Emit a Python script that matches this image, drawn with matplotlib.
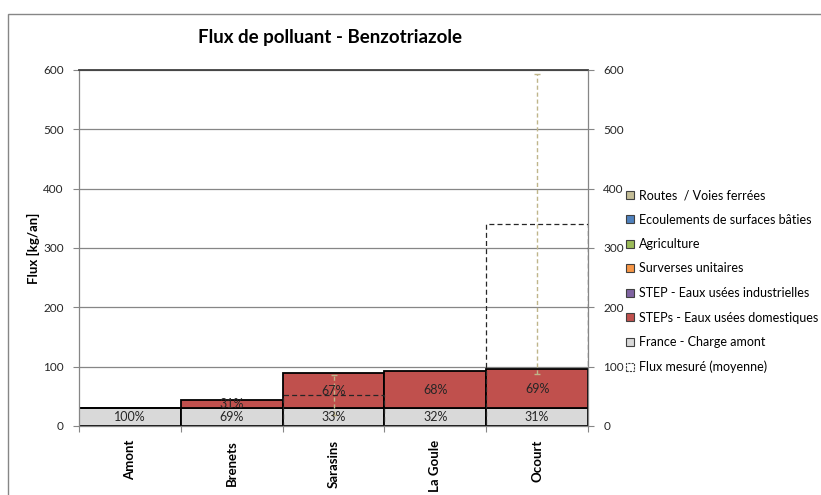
import numpy as np
import matplotlib
matplotlib.use("Agg")
import matplotlib.pyplot as plt
from matplotlib.patches import Patch, Rectangle

plt.rcParams['font.family'] = ['Lato', 'DejaVu Sans']

# data
categories = ['Amont', 'Brenets', 'Sarasins', 'La Goule', 'Ocourt']
france = [29.5, 29.5, 29.5, 29.5, 29.5]           # France - Charge amont
step_dom = [0.0, 13.5, 60.5, 62.5, 66.5]           # STEPs - Eaux usees domestiques
measured = [np.nan, np.nan, 52.0, 0.0, 340.0]      # Flux mesure (moyenne)
measured_err = [np.nan, np.nan, 34.0, np.nan, 253.0]

legend_labels = ['Routes  / Voies ferrées', 'Ecoulements de surfaces bâties',
                 'Agriculture', 'Surverses unitaires',
                 'STEP - Eaux usées industrielles', 'STEPs - Eaux usées domestiques',
                 'France - Charge amont', 'Flux mesuré (moyenne)']
legend_colors = ['#c4bd97', '#4f81bd', '#9bbb59', '#f79646', '#8064a2',
                 '#c0504d', '#d9d9d9', 'none']

W, H = 821, 495
fig = plt.figure(figsize=(W / 100, H / 100), dpi=100)
ax = fig.add_axes([79 / W, 1 - 426 / H, (588 - 79) / W, (426 - 70) / H])

# outer chart frame
fig.patches.append(Rectangle((8 / W, -0.05), 1.2, 1 - 14 / H + 0.05,
                             transform=fig.transFigure, fill=False,
                             edgecolor='#868686', linewidth=1.0))

x = np.arange(len(categories))
france = np.array(france)
step_dom = np.array(step_dom)
total = france + step_dom

ax.bar(x, france, width=1.0, color='#d9d9d9', edgecolor='black', linewidth=1.3, zorder=2)
ax.bar(x, step_dom, width=1.0, bottom=france, color='#c0504d', edgecolor='black',
       linewidth=1.3, zorder=2)

# measured flux: unfilled dashed bars + error bars
ax.bar(x, measured, width=1.0, fill=False, edgecolor='#262626', linewidth=0.9,
       linestyle=(0, (4, 2.5)), zorder=3)
eb = ax.errorbar(x, measured, yerr=measured_err, fmt='none', ecolor='#bfb58a',
                 elinewidth=1.0, capsize=2, capthick=1.0, zorder=3)
eb.lines[2][0].set_linestyle((0, (3, 2)))

# percentage labels
for i in range(len(categories)):
    ax.text(x[i], france[i] / 2, f"{round(100 * france[i] / total[i]):.0f}%",
            ha='center', va='center', fontsize=9, color='#262626', zorder=4)
    if step_dom[i] > 0:
        ax.text(x[i], france[i] + step_dom[i] / 2,
                f"{round(100 * step_dom[i] / total[i]):.0f}%",
                ha='center', va='center', fontsize=9, color='#262626', zorder=4)

ax.set_xlim(-0.5, len(categories) - 0.5)
ax.set_ylim(0, 600)
ax.set_yticks(np.arange(0, 601, 100))
ax.yaxis.grid(True, color='#868686', linewidth=0.9, zorder=0)
ax.set_axisbelow(True)

ax.set_xticks(np.arange(-0.5, len(categories), 1.0), minor=False)
ax.set_xticklabels([])
ax.set_xticks(x, minor=True)
ax.set_xticklabels(categories, minor=True, rotation=90, fontsize=9.5,
                   fontweight='bold', va='top', ha='center')
ax.tick_params(axis='x', which='major', length=4, color='#868686', width=0.8)
ax.tick_params(axis='x', which='minor', length=0, pad=10)
ax.tick_params(axis='y', length=4, color='#868686', width=0.8, labelsize=8.5,
               labelcolor='#262626', pad=7)

ax.set_ylabel('Flux [kg/an]', fontsize=9.5, fontweight='bold')
ax.yaxis.set_label_coords(-0.077, 0.5)

for side in ['left', 'right', 'bottom']:
    ax.spines[side].set_color('#868686')
    ax.spines[side].set_linewidth(0.9)
ax.spines['top'].set_color('#404040')
ax.spines['top'].set_linewidth(1.3)

ax2 = ax.twinx()
ax2.set_ylim(0, 600)
ax2.set_yticks(np.arange(0, 601, 100))
ax2.tick_params(axis='y', length=4, color='#868686', width=0.8, labelsize=8.5,
                labelcolor='#262626', pad=7)
for side in ['left', 'right', 'bottom', 'top']:
    ax2.spines[side].set_visible(False)

fig.text(330 / W, 1 - 38 / H, 'Flux de polluant - Benzotriazole', ha='center',
         va='center', fontsize=13.5, fontweight='bold')

handles = []
for lab, col in zip(legend_labels, legend_colors):
    if col == 'none':
        handles.append(Patch(facecolor='white', edgecolor='#404040', linewidth=0.8,
                             linestyle=(0, (2, 1)), label=lab))
    else:
        handles.append(Patch(facecolor=col, edgecolor='#404040', linewidth=0.8, label=lab))
fig.legend(handles=handles, loc='upper left', bbox_to_anchor=(626 / W, 1 - 189 / H),
           frameon=False, fontsize=9, handlelength=0.6, handleheight=0.6,
           handletextpad=0.4, labelspacing=1.0, borderaxespad=0, borderpad=0)

fig.savefig('out.png', dpi=100)
